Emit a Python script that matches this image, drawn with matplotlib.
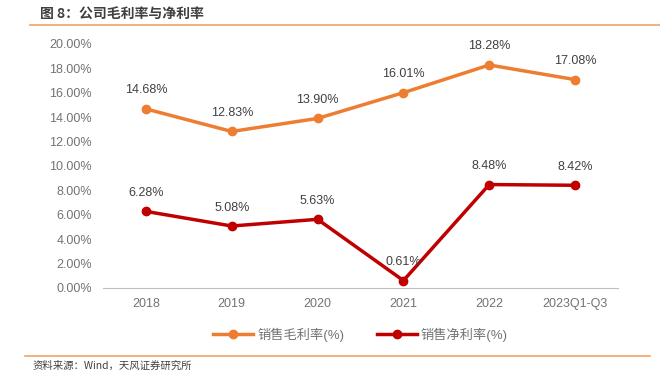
import matplotlib.pyplot as plt
from matplotlib.ticker import FuncFormatter
from matplotlib.lines import Line2D

plt.rcParams['font.family'] = ['Liberation Sans', 'Noto Sans CJK SC', 'DejaVu Sans']

years = ['2018', '2019', '2020', '2021', '2022', '2023Q1-Q3']
gross_margin = [14.68, 12.83, 13.90, 16.01, 18.28, 17.08]
net_margin = [6.28, 5.08, 5.63, 0.61, 8.48, 8.42]
series_names = ['销售毛利率(%)', '销售净利率(%)']

W, H = 660, 387
fig = plt.figure(figsize=(W / 100, H / 100), dpi=100)

# title and top rule
fig.text(40 / W, 1 - 15 / H, '图 8：公司毛利率与净利率', fontsize=10, fontweight='bold',
         color='#404040', va='center', ha='left',
         family=['Noto Sans CJK SC', 'DejaVu Sans'])
fig.add_artist(Line2D([30 / W, 1.0], [1 - 25 / H, 1 - 25 / H], color='#F4A460', lw=1.2))

# footer rule and source
fig.add_artist(Line2D([25 / W, 650 / W], [1 - 356 / H, 1 - 356 / H], color='#F4A460', lw=1.2))
fig.text(33 / W, 1 - 366 / H, '资料来源：Wind，天风证券研究所', fontsize=7.5,
         color='#404040', va='center', ha='left',
         family=['Noto Sans CJK SC', 'DejaVu Sans'])

ax = fig.add_axes([103 / W, 1 - 288 / H, (618 - 103) / W, (288 - 44) / H])
x = range(len(years))
orange = '#ED7D31'
red = '#C00000'
ax.plot(x, gross_margin, color=orange, lw=2.5, marker='o', ms=6, label=series_names[0])
ax.plot(x, net_margin, color=red, lw=2.5, marker='o', ms=6, label=series_names[1])

for i, v in enumerate(gross_margin):
    ax.annotate(f'{v:.2f}%', (i, v), xytext=(0, 9), textcoords='offset points',
                ha='center', va='bottom', fontsize=9, color='#404040')
for i, v in enumerate(net_margin):
    ax.annotate(f'{v:.2f}%', (i, v), xytext=(0, 9), textcoords='offset points',
                ha='center', va='bottom', fontsize=9, color='#404040')

ax.set_ylim(0, 20)
ax.set_yticks(range(0, 21, 2))
ax.yaxis.set_major_formatter(FuncFormatter(lambda v, p: f'{v:.2f}%'))
ax.set_xlim(-0.5, len(years) - 0.5)
ax.set_xticks(list(x))
ax.set_xticklabels(years)
ax.tick_params(axis='both', length=0, labelsize=9, colors='#737373', pad=8)
ax.tick_params(axis='x', pad=7)
for s in ['top', 'right', 'left']:
    ax.spines[s].set_visible(False)
ax.spines['bottom'].set_color('#BFBFBF')

ax.legend(loc='center', bbox_to_anchor=(0.5, -0.19), ncol=2, frameon=False,
          fontsize=9.5, labelcolor='#737373', handlelength=3, columnspacing=2.5,
          handletextpad=0.3)

fig.savefig('out.png', dpi=100)
